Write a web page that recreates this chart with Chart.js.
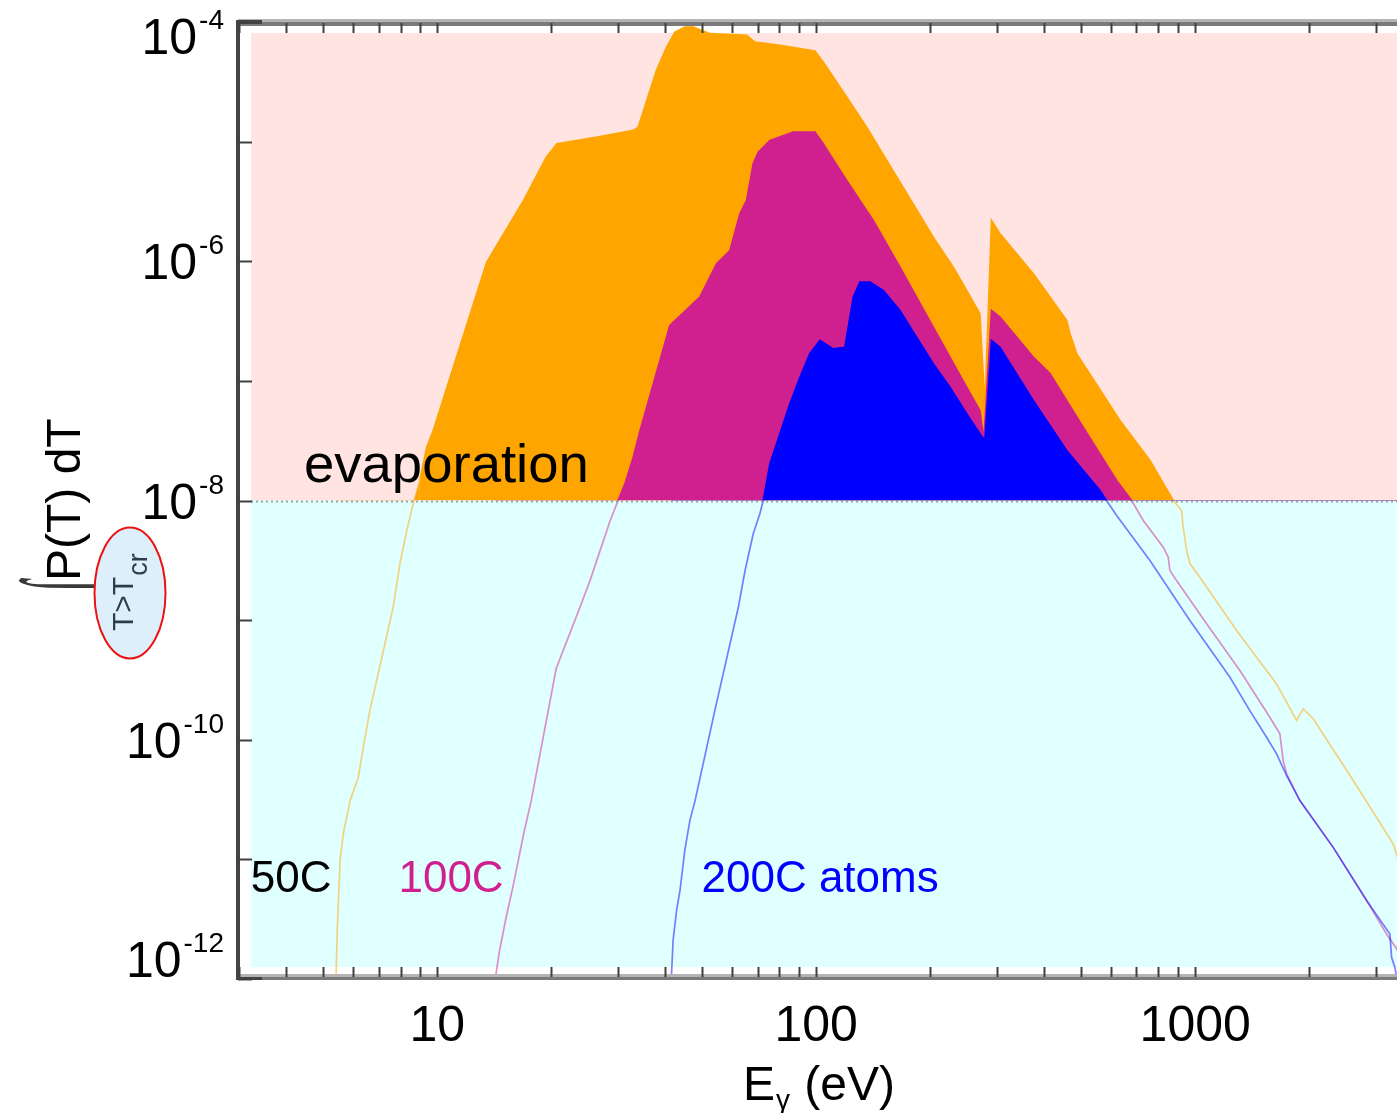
<!DOCTYPE html>
<html><head><meta charset="utf-8">
<script src="https://cdn.jsdelivr.net/npm/chart.js@4.4.0/dist/chart.umd.min.js"></script>
<style>
html,body{margin:0;padding:0;background:#fff;overflow:hidden;}
#wrap{position:relative;width:1410px;height:1113px;}
</style></head><body>
<div id="wrap"><canvas id="c"></canvas></div>
<script>
// ---- data (photon energy in eV, integrated probability) ----
const E_50C = [5.40, 5.45, 5.54, 5.65, 5.89, 6.19, 6.38, 6.64, 7.65, 7.97, 8.31, 8.64, 9.00, 9.38, 9.76, 13.5, 16.9, 19.4, 20.7, 26.9, 32.9, 33.9, 37.9, 40.3, 42.4, 45.0, 47.4, 52.4, 65.5, 68.9, 80.2, 99.2, 104.3, 120.3, 135.8, 166.3, 203.6, 229.9, 249.4, 270.3, 278.7, 290.2, 305.3, 373.8, 457.9, 467.1, 486.5, 632.9, 759.6, 875, 920.6, 929.6, 949.1, 968.3, 1029, 1286, 1640, 1851, 1928, 2048, 2612, 3331, 3450];
const P_50C = [9e-13, 2.70e-12, 9.8e-12, 1.63e-11, 3.10e-11, 4.86e-11, 8.65e-11, 1.75e-10, 1.28e-9, 2.96e-9, 5.61e-9, 9.4e-9, 1.47e-8, 2.79e-8, 3.85e-8, 9.8e-7, 3.22e-6, 7.41e-6, 9.6e-6, 1.10e-5, 1.24e-5, 1.32e-5, 3.94e-5, 6.17e-5, 8.24e-5, 9.05e-5, 9.05e-5, 7.98e-5, 7.73e-5, 6.79e-5, 6.37e-5, 5.71e-5, 4.62e-5, 2.36e-5, 1.32e-5, 4.58e-6, 1.59e-6, 8.93e-7, 5.70e-7, 3.64e-7, 6.03e-8, 2.19e-6, 1.70e-6, 7.85e-7, 3.20e-7, 2.48e-7, 1.69e-7, 4.67e-8, 2.16e-8, 1.0e-8, 8.25e-9, 5.98e-9, 3.82e-9, 2.97e-9, 2.28e-9, 8.18e-10, 2.93e-10, 1.45e-10, 1.81e-10, 1.50e-10, 4.56e-11, 1.35e-11, 9.5e-12];

const E_100C = [14.15, 14.6, 15.2, 15.9, 16.9, 17.7, 20.6, 23.8, 25.3, 26.9, 28.6, 30.0, 31.3, 32.9, 34.3, 41.1, 49.3, 54.6, 59.2, 62.9, 65.5, 68.2, 70.3, 75.5, 87.0, 99.2, 104.3, 120.3, 141.4, 166.3, 203.6, 249.4, 270.3, 277.0, 290.2, 305.3, 373.8, 413.7, 506.3, 620.4, 679.6, 729.3, 823.6, 848.9, 857.6, 893.1, 1072, 1312, 1574, 1673, 1707, 1743, 1889, 2313, 2834, 3199, 3400, 3450];
const P_100C = [9e-13, 1.73e-12, 3.28e-12, 6.24e-12, 1.63e-11, 3.10e-11, 3.94e-10, 1.28e-9, 2.14e-9, 3.82e-9, 6.81e-9, 1.0e-8, 1.39e-8, 2.30e-8, 3.85e-8, 2.90e-7, 5.01e-7, 9.53e-7, 1.23e-6, 2.49e-6, 3.22e-6, 6.53e-6, 8.17e-6, 1.02e-5, 1.20e-5, 1.20e-5, 9.6e-6, 4.74e-6, 2.19e-6, 8.93e-7, 2.81e-7, 8.85e-8, 5.66e-8, 3.18e-8, 3.88e-7, 3.41e-7, 1.58e-7, 1.15e-7, 4.10e-8, 1.47e-8, 1.0e-8, 6.81e-9, 4.07e-9, 3.36e-9, 2.60e-9, 2.14e-9, 9.31e-10, 3.79e-10, 1.54e-10, 1.12e-10, 6.70e-11, 5.19e-11, 3.10e-11, 1.26e-11, 4.53e-12, 2.38e-12, 1.79e-12, 1.6e-12];

const E_200C = [41.4, 41.9, 42.8, 43.7, 45.0, 46.4, 47.9, 54.0, 62.3, 64.9, 68.2, 71.0, 72.5, 75.5, 80.2, 85.2, 90.6, 96.2, 102.3, 110.9, 119.0, 121.5, 125.2, 130.4, 138.6, 150.2, 166.3, 184.0, 203.6, 225.3, 249.4, 270.3, 278.7, 290.2, 305.3, 373.8, 457.9, 560.6, 583.6, 620.4, 759.6, 968.3, 1235, 1394, 1543, 1640, 1743, 1889, 2313, 2834, 3264, 3298, 3365, 3400, 3450];
const P_200C = [9e-13, 2.09e-12, 3.73e-12, 5.48e-12, 1.19e-11, 2.11e-11, 3.10e-11, 1.75e-10, 1.28e-9, 2.60e-9, 5.27e-9, 7.74e-9, 1.0e-8, 2.03e-8, 3.61e-8, 6.44e-8, 1.07e-7, 1.69e-7, 2.18e-7, 1.85e-7, 1.91e-7, 2.81e-7, 5.01e-7, 6.68e-7, 6.68e-7, 5.70e-7, 3.88e-7, 2.32e-7, 1.39e-7, 8.85e-8, 5.31e-8, 3.61e-8, 3.18e-8, 2.18e-7, 1.91e-7, 6.86e-8, 2.62e-8, 1.21e-8, 1.0e-8, 7.50e-9, 3.15e-9, 9.93e-10, 3.33e-10, 1.75e-10, 1.05e-10, 7.62e-11, 5.02e-11, 3.10e-11, 1.26e-11, 4.53e-12, 2.38e-12, 1.52e-12, 1.25e-12, 1.03e-12, 8e-13];

const SERIES_NAMES = ['50C', '100C', '200C atoms'];
const X_TICK_LABELS = [10, 100, 1000];
const Y_TICK_EXPONENTS = [-4, -6, -8, -10, -12];
const Y_TICK_DECADES = [-4, -5, -6, -7, -8, -9, -10, -11, -12];
const THRESHOLD = 1e-8;
const X_MIN = 2.98, X_MAX = 3450, Y_MIN = 1e-12, Y_MAX = 1e-4;

const FONT = '"Liberation Sans", Arial, Helvetica, sans-serif';
const COLORS = {
  '50C':  {fill: '#FFA500', line: 'rgba(255,165,0,0.5)', text: '#000000'},
  '100C': {fill: '#D02090', line: 'rgba(208,32,144,0.5)', text: '#D02090'},
  '200C atoms': {fill: '#0000FF', line: 'rgba(0,0,255,0.5)', text: '#0000FF'}
};

function toPoints(xs, ys) { return xs.map((e, i) => ({x: e, y: ys[i]})); }

function makeDataset(name, xs, ys, order) {
  const c = COLORS[name];
  return {
    label: name,
    data: toPoints(xs, ys),
    order: order,
    borderColor: c.line,
    borderWidth: 1.7,
    pointRadius: 0,
    tension: 0,
    fill: {target: {value: THRESHOLD}, above: c.fill, below: 'rgba(0,0,0,0)'},
    segment: {
      borderColor: ctx => (ctx.p0.parsed.y >= THRESHOLD && ctx.p1.parsed.y >= THRESHOLD) ? c.fill : c.line
    }
  };
}

const bgPlugin = {
  id: 'bgPlugin',
  beforeDatasetsDraw(chart) {
    const {ctx, chartArea: a, scales: {y}} = chart;
    const yT = y.getPixelForValue(THRESHOLD);
    ctx.save();
    ctx.fillStyle = '#FFE4E1';
    ctx.fillRect(a.left + 13, a.top + 11, a.right - a.left - 13, yT - a.top - 11);
    ctx.fillStyle = '#E0FFFF';
    ctx.fillRect(a.left + 13, yT, a.right - a.left - 13, a.bottom - 12 - yT);
    ctx.restore();
  }
};

const framePlugin = {
  id: 'framePlugin',
  afterDatasetsDraw(chart) {
    const {ctx, chartArea: a, scales: {x, y}} = chart;
    ctx.save();
    // dotted threshold line
    const yT = Math.round(y.getPixelForValue(THRESHOLD)) + 0.5;
    ctx.strokeStyle = 'rgba(140,140,140,0.8)';
    ctx.lineWidth = 2;
    ctx.setLineDash([2, 3]);
    ctx.beginPath(); ctx.moveTo(a.left + 13, yT); ctx.lineTo(a.right, yT); ctx.stroke();
    ctx.setLineDash([]);

    // frame: top and bottom (two-tone grey), left (dark)
    ctx.fillStyle = '#b4b4b4';
    ctx.fillRect(a.left, a.top - 3, a.right - a.left, 3);
    ctx.fillRect(a.left, a.bottom - 5, a.right - a.left, 3);
    ctx.fillStyle = '#7a7a7a';
    ctx.fillRect(a.left, a.top, a.right - a.left, 4);
    ctx.fillRect(a.left, a.bottom - 2, a.right - a.left, 3);
    ctx.fillStyle = '#444444';
    ctx.fillRect(a.left - 2, a.top - 2, 4, a.bottom - a.top + 3);
    ctx.fillRect(a.left, a.top - 2, 24, 4);
    ctx.fillRect(a.left, a.bottom - 2, 24, 3);

    // x ticks (inward, bottom and top)
    ctx.strokeStyle = '#404040';
    ctx.lineWidth = 2;
    for (let d = 0; d <= 3; d++) {
      for (let m = 1; m <= 9; m++) {
        const v = m * Math.pow(10, d);
        if (v < X_MIN || v > X_MAX) continue;
        const px = Math.round(x.getPixelForValue(v)) + 0.5;
        ctx.beginPath();
        ctx.moveTo(px, a.bottom - 2); ctx.lineTo(px, a.bottom - 12);
        ctx.moveTo(px, a.top + 1); ctx.lineTo(px, a.top + 11);
        ctx.stroke();
      }
    }
    // y ticks (left axis only visible)
    Y_TICK_DECADES.forEach(e => {
      const py = Math.round(y.getPixelForValue(Math.pow(10, e))) + 0.5;
      ctx.beginPath();
      ctx.moveTo(a.left, py); ctx.lineTo(a.left + 14, py);
      ctx.stroke();
    });
    ctx.restore();
  },
  afterDraw(chart) {
    const {ctx, chartArea: a, scales: {x, y}} = chart;
    ctx.save();
    ctx.fillStyle = '#000';
    // x tick labels
    ctx.font = '50px ' + FONT;
    ctx.textAlign = 'center';
    ctx.textBaseline = 'alphabetic';
    X_TICK_LABELS.forEach(v => {
      ctx.fillText(String(v), x.getPixelForValue(v), 1041);
    });
    // y tick labels 10^n
    Y_TICK_EXPONENTS.forEach(e => {
      const py = y.getPixelForValue(Math.pow(10, e));
      const base = Math.min(Math.max(py + 18, a.top + 32), a.bottom - 2);
      const right = a.left - 14;
      ctx.textAlign = 'right';
      ctx.font = '28px ' + FONT;
      const sup = String(e);
      const supW = ctx.measureText(sup).width;
      ctx.fillText(sup, right, base - 25);
      ctx.font = '50px ' + FONT;
      ctx.fillText('10', right - supW - 2, base);
    });
    // x axis title E_gamma (eV)
    ctx.textAlign = 'left';
    ctx.font = '48px ' + FONT;
    let tx = 743;
    ctx.fillText('E', tx, 1100);
    tx += ctx.measureText('E').width + 1;
    ctx.font = '28px ' + FONT;
    ctx.fillText('γ', tx, 1109);
    tx += ctx.measureText('γ').width + 1;
    ctx.font = '48px ' + FONT;
    ctx.fillText(' (eV)', tx, 1100);

    // y axis title: integral P(T) dT, rotated
    ctx.save();
    ctx.translate(80, 581);
    ctx.rotate(-Math.PI / 2);
    ctx.font = '48px ' + FONT;
    ctx.fillText('P(T) dT', 0, 0);
    ctx.restore();

    // integral sign: thin, elongated, rotated
    ctx.save();
    ctx.font = '200 42px "DejaVu Sans"';
    const iw = ctx.measureText('∫').width;
    ctx.translate(124, 586);
    ctx.rotate(-Math.PI / 2);
    ctx.scale(1, 3.5);
    ctx.fillStyle = '#3a3a3a';
    ctx.textAlign = 'left';
    ctx.fillText('∫', -iw / 2, 0);
    ctx.restore();

    // ellipse with T>T_cr
    ctx.save();
    ctx.beginPath();
    ctx.ellipse(130, 593, 35.5, 65.5, 0, 0, Math.PI * 2);
    ctx.fillStyle = '#DCEFFB';
    ctx.fill();
    ctx.strokeStyle = '#EE1111';
    ctx.lineWidth = 2;
    ctx.stroke();
    ctx.translate(133, 631);
    ctx.rotate(-Math.PI / 2);
    ctx.fillStyle = '#2c3e4c';
    ctx.font = '30px ' + FONT;
    ctx.fillText('T>T', 0, 0);
    const w1 = ctx.measureText('T>T').width;
    ctx.font = '27px ' + FONT;
    ctx.fillText('cr', w1 + 1, 14);
    ctx.restore();

    // annotations
    ctx.textAlign = 'left';
    ctx.font = '54.5px ' + FONT;
    ctx.fillStyle = '#000';
    ctx.fillText('evaporation', x.getPixelForValue(4.45), y.getPixelForValue(1.44e-8));
    ctx.font = '44px ' + FONT;
    const labelY = y.getPixelForValue(5.3e-12);
    ctx.fillStyle = COLORS['50C'].text;
    ctx.fillText(SERIES_NAMES[0], x.getPixelForValue(3.22), labelY);
    ctx.fillStyle = COLORS['100C'].text;
    ctx.fillText(SERIES_NAMES[1], x.getPixelForValue(7.9), labelY);
    ctx.fillStyle = COLORS['200C atoms'].text;
    ctx.fillText(SERIES_NAMES[2], x.getPixelForValue(49.8), labelY);
    ctx.restore();
  }
};

new Chart(document.getElementById('c'), {
  type: 'line',
  data: {
    datasets: [
      makeDataset('50C', E_50C, P_50C, 3),
      makeDataset('100C', E_100C, P_100C, 2),
      makeDataset('200C atoms', E_200C, P_200C, 1)
    ]
  },
  options: {
    responsive: true,
    maintainAspectRatio: false,
    animation: false,
    layout: {padding: {left: 238, top: 22, right: 11, bottom: 134}},
    plugins: {legend: {display: false}, tooltip: {enabled: false}},
    scales: {
      x: {type: 'logarithmic', min: X_MIN, max: X_MAX, display: false},
      y: {type: 'logarithmic', min: Y_MIN, max: Y_MAX, display: false}
    }
  },
  plugins: [bgPlugin, framePlugin]
});
</script>
</body></html>
